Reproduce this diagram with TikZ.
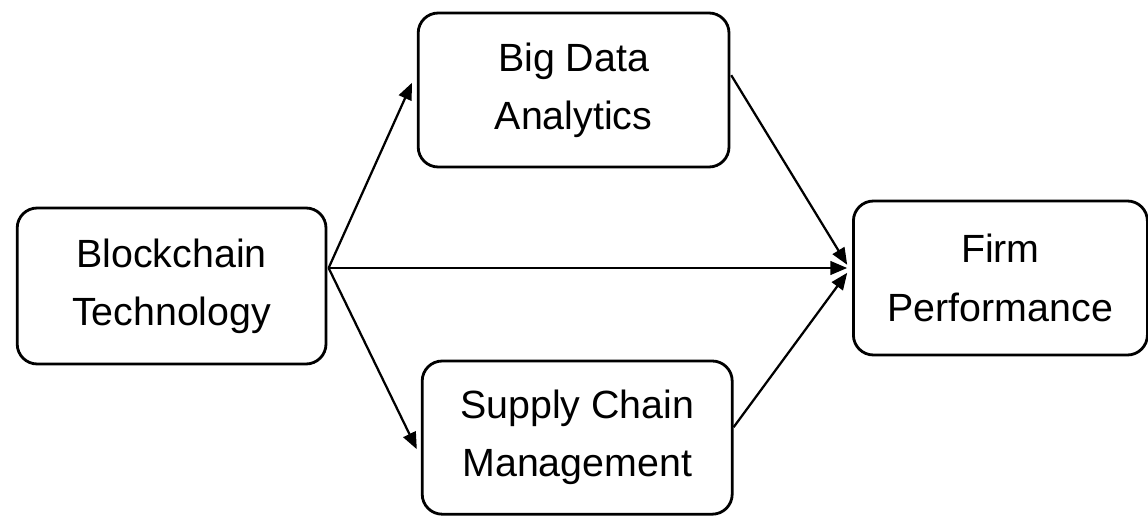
\documentclass[tikz,border=0pt]{standalone}
\usepackage{fontspec}
\setmainfont{Liberation Sans}
\usetikzlibrary{arrows.meta, positioning, calc}

\tikzset{
  concept/.style={draw, line width=2pt, rounded corners=0.5cm, align=center,
    inner sep=0pt, font=\fontsize{28}{41.5}\selectfont},
  link/.style={line width=1.6pt, -{Triangle[length=0.42cm, width=0.34cm]}}
}

\begin{document}
\begin{tikzpicture}
  \useasboundingbox (0,0) rectangle (28.7,12.9);

  % constructs
  \node[concept, minimum width=7.72cm, minimum height=3.9cm] (bct) at (4.29,5.75) {Blockchain\\Technology};
  \node[concept, minimum width=7.77cm, minimum height=3.85cm] (bda) at (14.34,10.65) {Big Data\\Analytics};
  \node[concept, minimum width=7.75cm, minimum height=3.83cm] (scm) at (14.43,1.96) {Supply Chain\\Management};
  \node[concept, minimum width=7.35cm, minimum height=3.85cm] (fp) at (25.01,5.95) {Firm\\Performance};

  % paths
  \coordinate (src) at ($(bct.east)+(0.03,0.45)$);
  \draw[link] (src) -- ($(bda.west)+(-0.12,0.18)$);
  \draw[link] (src) -- ($(scm.west)+(-0.1,-0.29)$);
  \draw[link] (src) -- ($(fp.west)+(-0.12,0.25)$);
  \draw[link] ($(bda.east)+(0.02,0.37)$) -- ($(fp.west)+(-0.12,0.33)$);
  \draw[link] ($(scm.east)+(0,0.26)$) -- ($(fp.west)+(-0.12,0.13)$);
\end{tikzpicture}
\end{document}
